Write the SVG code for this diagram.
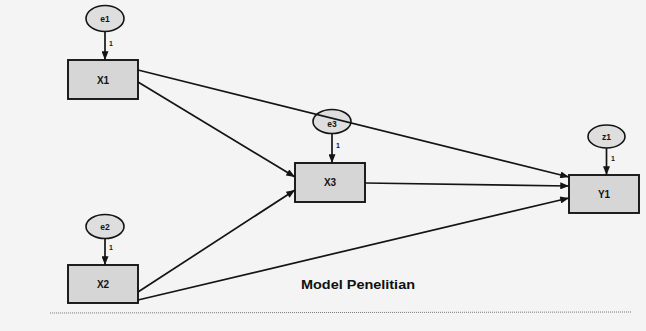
<svg xmlns="http://www.w3.org/2000/svg" width="646" height="331" viewBox="0 0 646 331">
  <style>
    .obs { fill: #d6d6d6; stroke: #141414; stroke-width: 1.9; }
    .err { fill: #dedede; stroke: #141414; stroke-width: 1.6; }
    .lbl { font-family: "Liberation Sans", Arial, sans-serif; font-weight: bold; font-size: 10px; fill: #141414; text-anchor: middle; }
    .elbl { font-family: "Liberation Sans", Arial, sans-serif; font-weight: bold; font-size: 8.5px; fill: #141414; text-anchor: middle; }
    .one { font-family: "Liberation Sans", Arial, sans-serif; font-weight: bold; font-size: 7px; fill: #141414; }
    .path { fill: none; stroke: #141414; stroke-width: 1.7; marker-end: url(#head); }
    .title { font-family: "Liberation Sans", Arial, sans-serif; font-size: 13.5px; font-weight: bold; fill: #111; }
  </style>
  <defs>
    <marker id="head" viewBox="0 0 10 8" refX="10" refY="4" markerWidth="10" markerHeight="7" markerUnits="userSpaceOnUse" orient="auto">
      <path d="M0,0 L10,4 L0,8 Z" fill="#141414"/>
    </marker>
  </defs>

  <!-- paper -->
  <rect x="0" y="0" width="646" height="331" fill="#f4f4f4"/>

  <!-- error terms -->
  <g id="e1">
    <ellipse class="err" cx="105" cy="18.5" rx="19" ry="13"/>
    <text class="elbl" x="105" y="22">e1</text>
  </g>
  <g id="e2">
    <ellipse class="err" cx="105" cy="226.5" rx="19" ry="12"/>
    <text class="elbl" x="105" y="230">e2</text>
  </g>
  <g id="e3">
    <ellipse class="err" cx="332" cy="121.5" rx="19" ry="12"/>
    <text class="elbl" x="332" y="126.5">e3</text>
  </g>
  <g id="z1">
    <ellipse class="err" cx="606.5" cy="136.5" rx="18.5" ry="11.5"/>
    <text class="elbl" x="606.5" y="140">z1</text>
  </g>

  <!-- connectors (the X1 to Y1 path runs across e3) -->
  <g id="connectors">
    <line class="path" x1="105" y1="32" x2="105" y2="60"/>
    <line class="path" x1="105" y1="238.5" x2="105" y2="265"/>
    <line class="path" x1="332" y1="133.5" x2="332" y2="163"/>
    <line class="path" x1="606.5" y1="148" x2="606.5" y2="175"/>
    <line class="path" x1="138" y1="70" x2="569" y2="177"/>
    <line class="path" x1="138" y1="82" x2="295" y2="177"/>
    <line class="path" x1="138" y1="292" x2="295" y2="190"/>
    <line class="path" x1="138" y1="300" x2="569" y2="198"/>
    <line class="path" x1="365" y1="183" x2="569" y2="186"/>
    <text class="one" x="109" y="46">1</text>
    <text class="one" x="109" y="250">1</text>
    <text class="one" x="336" y="148">1</text>
    <text class="one" x="611" y="161">1</text>
  </g>

  <!-- observed variables -->
  <g id="X1">
    <rect class="obs" x="68" y="60" width="70" height="39"/>
    <text class="lbl" x="103" y="83.5">X1</text>
  </g>
  <g id="X2">
    <rect class="obs" x="68" y="265" width="70" height="38"/>
    <text class="lbl" x="103" y="288">X2</text>
  </g>
  <g id="X3">
    <rect class="obs" x="295" y="163" width="70" height="39"/>
    <text class="lbl" x="330" y="186">X3</text>
  </g>
  <g id="Y1">
    <rect class="obs" x="569" y="175" width="70" height="38"/>
    <text class="lbl" x="604" y="198">Y1</text>
  </g>

  <!-- caption and rule -->
  <text class="title" x="301" y="289" textLength="114" lengthAdjust="spacingAndGlyphs">Model Penelitian</text>
  <line x1="50" y1="313" x2="632" y2="312" stroke="#777" stroke-width="1" stroke-dasharray="1 1"/>
</svg>
